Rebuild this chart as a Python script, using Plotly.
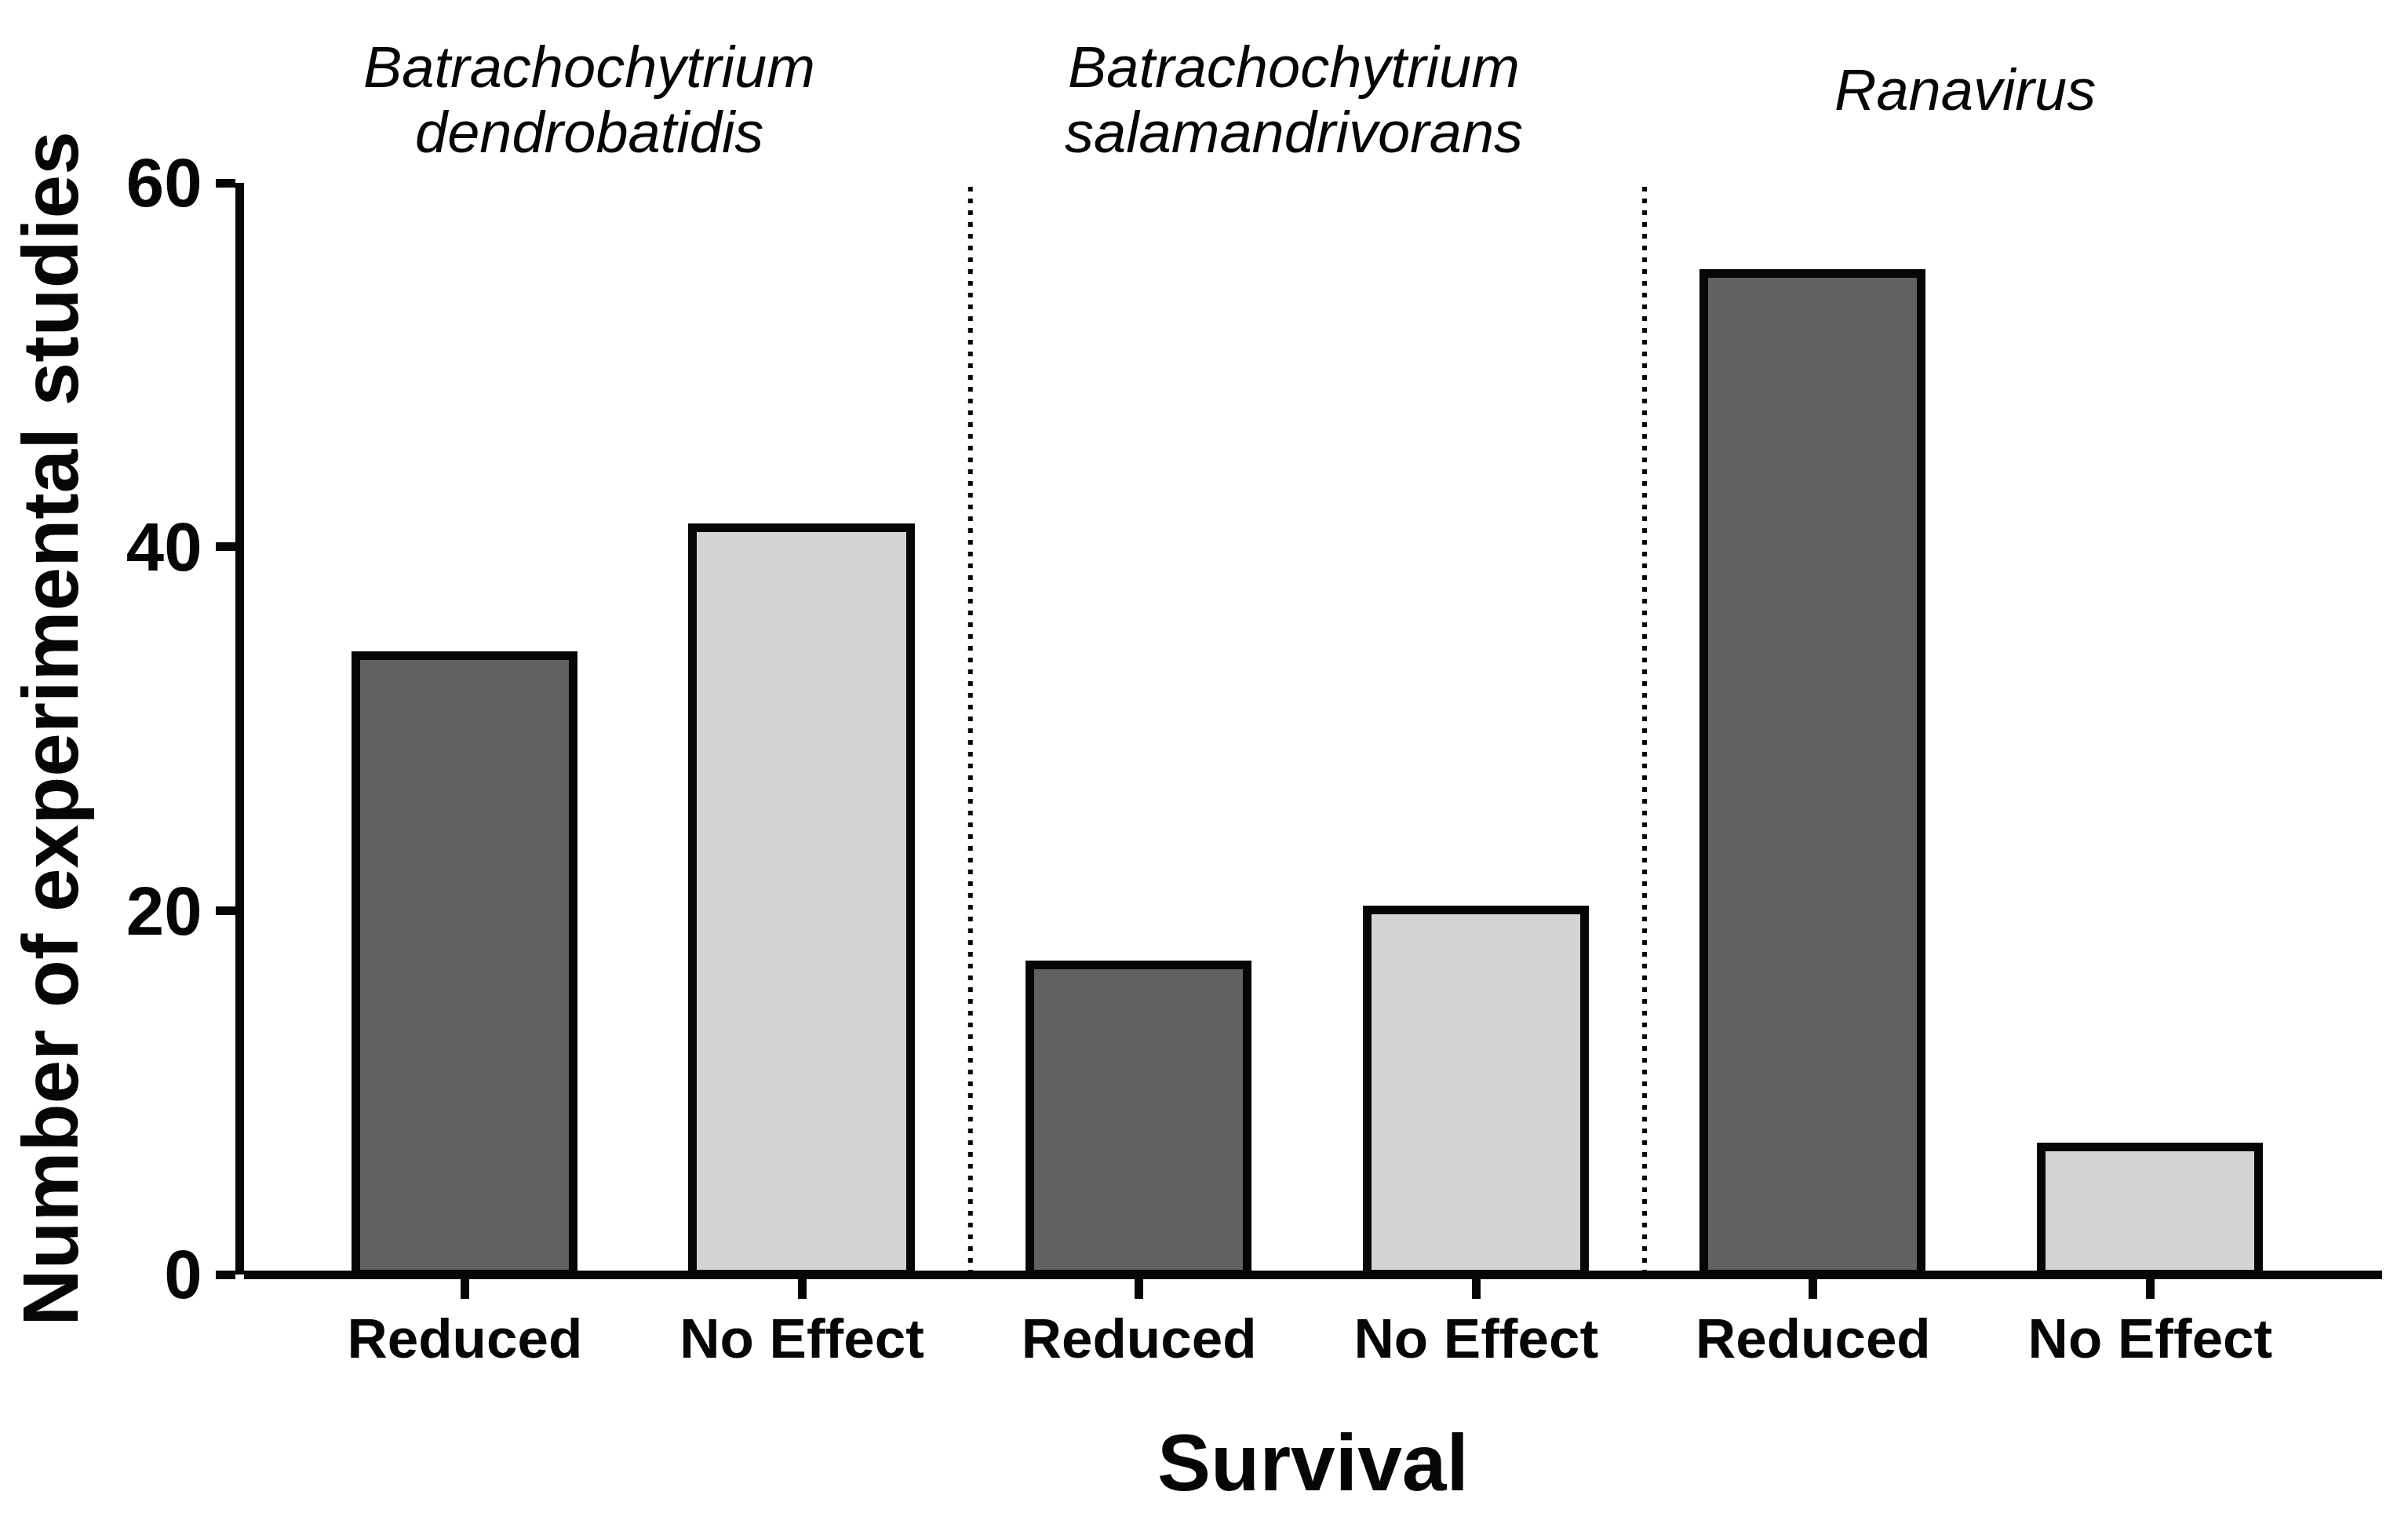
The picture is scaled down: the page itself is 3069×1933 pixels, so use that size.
import plotly.graph_objects as go

# ---- data ----
groups = ["Batrachochytrium\ndendrobatidis", "Batrachochytrium\nsalamandrivorans", "Ranavirus"]
outcomes = ["Reduced", "No Effect"]
reduced = [34, 17, 55]
no_effect = [41, 20, 7]
y_ticks = [0, 20, 40, 60]
x_title = "Survival"
y_title = "Number of experimental studies"

# ---- styles ----
FONT = "Liberation Sans, Arial, Helvetica, sans-serif"
BLACK = "#050706"
DARK = "#606261"
LIGHT = "#d3d5d4"
LW = 11

n_out = len(outcomes)
n_grp = len(groups)
pos_reduced = [g * n_out + 0 for g in range(n_grp)]
pos_noeffect = [g * n_out + 1 for g in range(n_grp)]
tickvals = list(range(n_grp * n_out))
ticktext = outcomes * n_grp

fig = go.Figure()
fig.add_trace(go.Bar(x=pos_reduced, y=reduced, name=outcomes[0], width=0.645,
                     marker=dict(color=DARK, line=dict(color=BLACK, width=LW))))
fig.add_trace(go.Bar(x=pos_noeffect, y=no_effect, name=outcomes[1], width=0.645,
                     marker=dict(color=LIGHT, line=dict(color=BLACK, width=LW))))

# dotted dividers between pathogen groups
for g in range(1, n_grp):
    xd = g * n_out - 0.5
    fig.add_shape(type="line", xref="x", yref="y", x0=xd, x1=xd, y0=y_ticks[0], y1=y_ticks[-1],
                  line=dict(color=BLACK, width=6, dash="6px,9px"), layer="below")

# group titles (italic), one annotation per line
title_dx = [-0.13, -0.04, -0.05]
line_shifts = {1: [119], 2: [148, 65]}
for g, name in enumerate(groups):
    lines = name.split("\n")
    xc = g * n_out + (n_out - 1) / 2 + title_dx[g]
    for i, ln in enumerate(lines):
        fig.add_annotation(x=xc, xref="x", y=1, yref="paper", yanchor="middle", xanchor="center",
                           yshift=line_shifts[len(lines)][i], showarrow=False,
                           text="<i>" + ln + "</i>",
                           font=dict(family=FONT, size=74, color=BLACK))

fig.update_layout(
    width=3069, height=1933,
    margin=dict(l=303, r=41, t=225, b=317),
    paper_bgcolor="white", plot_bgcolor="white",
    showlegend=False, bargap=0,
    font=dict(family=FONT, color=BLACK),
)
fig.update_xaxes(
    range=[-0.655, 5.688], tickmode="array", tickvals=tickvals, ticktext=ticktext,
    ticks="outside", ticklen=30, tickwidth=LW, tickcolor=BLACK, ticklabelstandoff=-10,
    showline=False, showgrid=False, zeroline=False,
    tickfont=dict(family=FONT, size=71, color=BLACK, weight="bold"),
    title=dict(text=x_title, font=dict(family=FONT, size=102, color=BLACK, weight="bold"), standoff=83),
)
fig.update_yaxes(
    range=[y_ticks[0], y_ticks[-1]], tickmode="array", tickvals=y_ticks,
    ticks="outside", ticklen=25, tickwidth=LW, tickcolor=BLACK,
    showline=True, linewidth=LW, linecolor=BLACK,
    zeroline=True, zerolinewidth=LW, zerolinecolor=BLACK,
    showgrid=False,
    tickfont=dict(family=FONT, size=87, color=BLACK, weight="bold"),
    title=dict(text=y_title, font=dict(family=FONT, size=100, color=BLACK, weight="bold"), standoff=32),
)

fig.write_html("out.html")
